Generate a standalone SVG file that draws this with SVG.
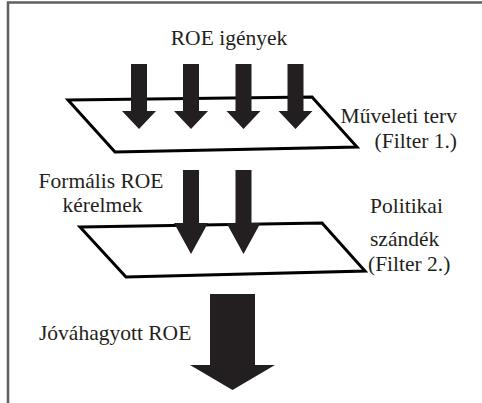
<svg xmlns="http://www.w3.org/2000/svg" width="482" height="403" viewBox="0 0 482 403">
<style>
  text { font-family: 'Liberation Serif', 'Times New Roman', Times, serif; font-size: 21.5px; fill: #231f20; }
  .plane { fill: #ffffff; stroke: #000; stroke-width: 3; stroke-linejoin: miter; }
  .arr { fill: #231f20; }
  .frame { stroke: #606060; stroke-width: 2.5; fill: none; }
</style>
<defs>
  <path id="a1" d="M -8 0 H 8 V 47 H 17 L 0 65 L -17 47 H -8 Z"/>
</defs>
<rect width="482" height="403" fill="#fff"/>
<path class="frame" d="M 8 403 V 2.5 H 482"/>

<g id="filter1">
  <polygon class="plane" points="68,100 312,97 357,147 115,152"/>
  <text x="457" y="122.5" text-anchor="end">Műveleti terv</text>
  <text x="457" y="147.5" text-anchor="end">(Filter 1.)</text>
</g>

<g id="roe-igenyek">
  <text x="229" y="45" text-anchor="middle">ROE igények</text>
</g>

<g id="filter2">
  <polygon class="plane" points="80,227 322,223 365,271 126,277"/>
  <text x="370" y="213">Politikai</text>
  <text x="370" y="246">szándék</text>
  <text x="368" y="271">(Filter 2.)</text>
</g>

<g id="formalis">
  <text x="101" y="188" text-anchor="middle">Formális ROE</text>
  <text x="102.5" y="212" text-anchor="middle">kérelmek</text>
</g>

<g id="jovahagyott">
  <text x="39" y="340">Jóváhagyott ROE</text>
</g>

<g id="connectors">
  <use href="#a1" class="arr" x="139" y="64"/>
  <use href="#a1" class="arr" x="191" y="64"/>
  <use href="#a1" class="arr" x="243.5" y="64"/>
  <use href="#a1" class="arr" x="295.5" y="64"/>
  <path class="arr" d="M 183 170 H 199 V 223 H 208 L 191 254 L 174 223 H 183 Z"/>
  <path class="arr" d="M 235.5 170 H 251.5 V 223 H 260.5 L 243.5 254 L 226.5 223 H 235.5 Z"/>
  <path class="arr" d="M 210 294 H 255 V 365 H 275 L 232.5 390 L 190 365 H 210 Z"/>
</g>
</svg>
